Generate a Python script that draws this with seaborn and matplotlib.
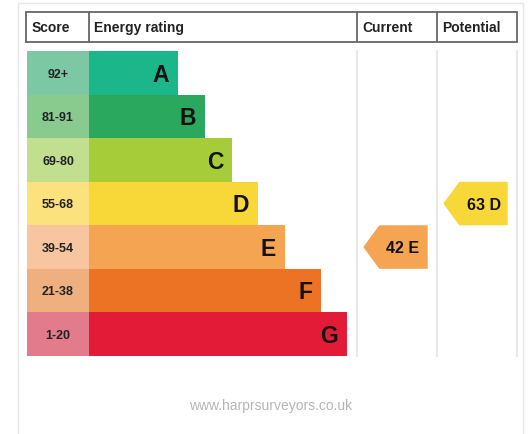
import numpy as np
import pandas as pd
import matplotlib
matplotlib.use("Agg")
import matplotlib.pyplot as plt
from matplotlib.patches import Polygon, Rectangle
import seaborn as sns

# EPC bands
bands = ["A", "B", "C", "D", "E", "F", "G"]
score_ranges = ["92+", "81-91", "69-80", "55-68", "39-54", "21-38", "1-20"]
band_low = [92, 81, 69, 55, 39, 21, 1]
band_length = [151, 178, 205, 231, 258, 294, 320]   # bar length per band
main_colors = ["#1bb68a", "#2aa85e", "#a6cd39", "#f7d838", "#f5a452", "#ec7224", "#e31b36"]
score_colors = ["#7cc8a4", "#89ca8f", "#c2df8f", "#fbe27d", "#f7c6a0", "#efb07f", "#e27b8c"]
headers = ["Score", "Energy rating", "Current", "Potential"]

current_score = 42
potential_score = 63
footer = "www.harprsurveyors.co.uk"

# layout (pixel based, 532x435 @ 100 dpi)
X0 = 27          # left of the bars
ROW_TOP = 52.3
ROW_H = 43.5
score_col_w = 62


def px(x):
    return x - X0


def ry(p):
    return (p - ROW_TOP) / ROW_H - 0.5


def band_of(score):
    for i, lo in enumerate(band_low):
        if score >= lo:
            return i
    return len(bands) - 1


sns.set_style("white")
plt.rcParams["font.family"] = ["Liberation Sans", "DejaVu Sans"]

fig = plt.figure(figsize=(5.32, 4.35), dpi=100)
ax = fig.add_axes([0, 0, 1, 1])

df = pd.DataFrame({"band": bands, "length": band_length,
                   "score_w": [score_col_w] * len(bands)})

sns.barplot(data=df, x="length", y="band", hue="band", palette=main_colors,
            orient="h", width=1.0, saturation=1, linewidth=0, legend=False, ax=ax)
sns.barplot(data=df, x="score_w", y="band", hue="band", palette=score_colors,
            orient="h", width=1.0, saturation=1, linewidth=0, legend=False, ax=ax)

ax.set_xlim(px(0), px(532))
ax.set_ylim(ry(435), ry(0))
ax.axis("off")

txt = "#111111"
for i, (b, rng, L) in enumerate(zip(bands, score_ranges, band_length)):
    ax.text(px(58), i + 0.02, rng, ha="center", va="center", fontsize=9,
            fontweight="bold", color="#222222")
    ax.text(L - 9, i + 0.03, b, ha="right", va="center", fontsize=16.5,
            fontweight="bold", color=txt)

# outer frame
frame_c = "#e6e6e6"
ax.plot([px(18), px(18)], [ry(4.3), ry(440)], color=frame_c, lw=1)
ax.plot([px(523), px(523)], [ry(4.3), ry(440)], color=frame_c, lw=1)
ax.plot([px(18), px(523)], [ry(4.3), ry(4.3)], color=frame_c, lw=1)

# column lines in the body
for xc in [357, 437, 517]:
    ax.plot([px(xc), px(xc)], [-0.5, len(bands) - 0.5], color="#e8e8e8", lw=1.5, zorder=0)

# header row
h_top, h_bot = ry(13.3), ry(43.3)
hdr_c = "#666666"
ax.add_patch(Rectangle((px(26), h_top), px(517) - px(26), h_bot - h_top,
                       fill=False, edgecolor=hdr_c, lw=1.3))
for xd in [89, 357, 437]:
    ax.plot([px(xd), px(xd)], [h_top, h_bot], color=hdr_c, lw=1.3)
for xt, h in zip([32, 94, 362, 442], headers):
    ax.text(px(xt), (h_top + h_bot) / 2, h, ha="left", va="center",
            fontsize=10, fontweight="bold", color="#222222")


def arrow(score, left, right, text_right):
    i = band_of(score)
    tip = 16
    pts = [(px(left), i), (px(left + tip), i - 0.5), (px(right), i - 0.5),
           (px(right), i + 0.5), (px(left + tip), i + 0.5)]
    ax.add_patch(Polygon(pts, closed=True, facecolor=main_colors[i], edgecolor="none"))
    ax.text(px(text_right), i + 0.02, f"{score} {bands[i]}", ha="right", va="center",
            fontsize=11.5, fontweight="bold", color=txt)


arrow(current_score, 363.3, 427.7, 419)
arrow(potential_score, 443.3, 507.7, 501)

ax.text(px(271), ry(406), footer, ha="center", va="center", fontsize=10,
        color="#b5b5b5")

fig.savefig("out.png", dpi=100)
